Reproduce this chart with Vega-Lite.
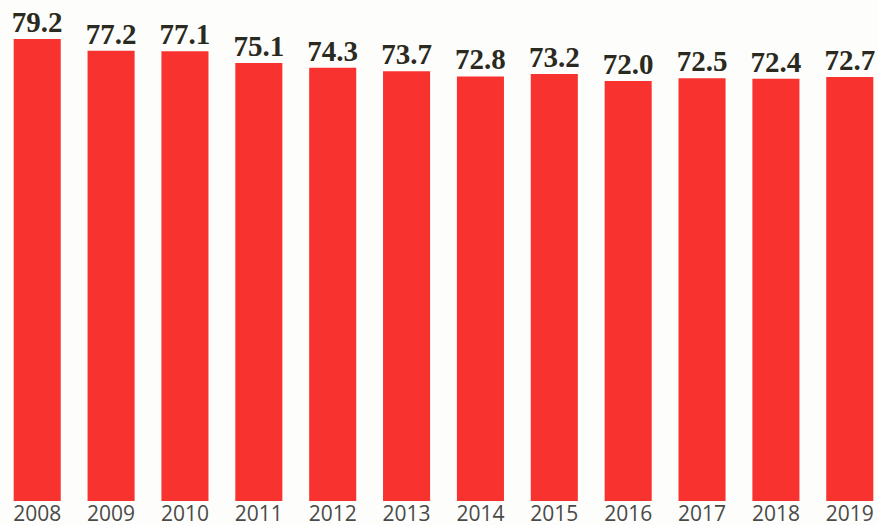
{
  "$schema": "https://vega.github.io/schema/vega-lite/v6.json",
  "autosize": {"type": "none"},
  "padding": {"left": 10, "top": 0, "right": 0, "bottom": 25},
  "width": 867,
  "height": 501,
  "background": "#fdfdfb",
  "config": {"view": {"stroke": null}},
  "data": {
    "values": [
      {"year": "2008", "value": 79.2},
      {"year": "2009", "value": 77.2},
      {"year": "2010", "value": 77.1},
      {"year": "2011", "value": 75.1},
      {"year": "2012", "value": 74.3},
      {"year": "2013", "value": 73.7},
      {"year": "2014", "value": 72.8},
      {"year": "2015", "value": 73.2},
      {"year": "2016", "value": 72.0},
      {"year": "2017", "value": 72.5},
      {"year": "2018", "value": 72.4},
      {"year": "2019", "value": 72.7}
    ]
  },
  "encoding": {
    "x": {
      "field": "year",
      "type": "ordinal",
      "scale": {"paddingInner": 0.363, "paddingOuter": 0.05},
      "axis": {
        "title": null,
        "domain": false,
        "ticks": false,
        "labelAngle": 0,
        "labelPadding": 2,
        "labelFont": "Open Sans",
        "labelFontSize": 21,
        "labelColor": "#4a4a48",
        "labelBaseline": "top"
      }
    },
    "y": {
      "field": "value",
      "type": "quantitative",
      "scale": {"domain": [0, 85.9], "nice": false},
      "axis": null
    }
  },
  "layer": [
    {"mark": {"type": "bar", "color": "#f8322f"}},
    {
      "mark": {
        "type": "text",
        "baseline": "alphabetic",
        "dy": -7,
        "font": "Liberation Serif",
        "fontWeight": "bold",
        "fontSize": 29,
        "color": "#2b2a20"
      },
      "encoding": {"text": {"field": "value", "type": "quantitative", "format": ".1f"}}
    }
  ]
}
